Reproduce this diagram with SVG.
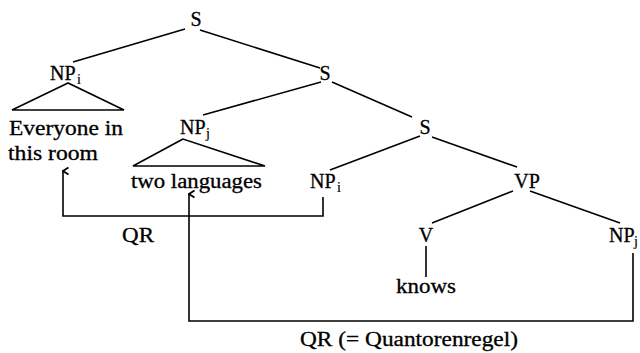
<svg xmlns="http://www.w3.org/2000/svg" width="640" height="353" viewBox="0 0 640 353">
<defs>
<style>
text{font-family:"Liberation Serif","Times New Roman",serif;font-size:20px;fill:#000;stroke:#000;stroke-width:0.3}
.sub{font-size:14px;stroke-width:0.2}
.m{text-anchor:middle}
.e{stroke:#000;stroke-width:1.6;fill:none}
.c{stroke:#000;stroke-width:1.6;fill:none;marker-end:url(#ah)}
</style>
<marker id="ah" markerWidth="10" markerHeight="10" refX="5" refY="1" orient="auto-start-reverse" markerUnits="userSpaceOnUse" viewBox="0 0 10 10">
<path d="M1.5,6.5 L5,1 L8.5,6.5" fill="none" stroke="#000" stroke-width="1.8"/>
</marker>
</defs>
<rect width="640" height="353" fill="#fff"/>
<g id="edges">
<line class="e" x1="185" y1="29" x2="73" y2="62"/>
<line class="e" x1="200" y1="30" x2="320" y2="68"/>
<line class="e" x1="321" y1="82" x2="203" y2="115"/>
<line class="e" x1="332" y1="82" x2="412" y2="117"/>
<line class="e" x1="420" y1="136" x2="330" y2="170"/>
<line class="e" x1="432" y1="137" x2="517" y2="167"/>
<line class="e" x1="513" y1="191" x2="432" y2="223"/>
<line class="e" x1="530" y1="191" x2="620" y2="223"/>
<line class="e" x1="426" y1="246" x2="426" y2="277"/>
</g>
<g id="S1"><text class="m" x="196" y="26">S</text></g>
<g id="NPi1"><text x="50" y="80">NP</text><text class="sub" x="77" y="84">i</text>
<polygon class="e" points="68,83 12,110 124,110"/>
<text x="9" y="135" textLength="114" lengthAdjust="spacingAndGlyphs">Everyone in</text>
<text x="8" y="160" textLength="90" lengthAdjust="spacingAndGlyphs">this room</text></g>
<g id="S2"><text class="m" x="325" y="80">S</text></g>
<g id="NPj1"><text x="180" y="134">NP</text><text class="sub" x="206" y="138">j</text>
<polygon class="e" points="183,139 133,166 265,166"/>
<text x="131" y="188" textLength="131" lengthAdjust="spacingAndGlyphs">two languages</text></g>
<g id="S3"><text class="m" x="425" y="134">S</text></g>
<g id="NPi2"><text x="310" y="188">NP</text><text class="sub" x="337" y="192">i</text></g>
<g id="VP"><text class="m" x="527" y="188">VP</text></g>
<g id="V"><text class="m" x="426" y="242">V</text></g>
<g id="knows"><text x="396" y="293" textLength="60" lengthAdjust="spacingAndGlyphs">knows</text></g>
<g id="NPj2"><text x="609" y="242">NP</text><text class="sub" x="634" y="246">j</text></g>
<g id="connectors">
<path class="c" d="M323,197 V216 H63 V171"/>
<path class="c" d="M633,253 V321 H189 V194"/>
<text x="122" y="242" textLength="32" lengthAdjust="spacingAndGlyphs">QR</text>
<text x="300" y="346" textLength="218" lengthAdjust="spacingAndGlyphs">QR (= Quantorenregel)</text>
</g>
</svg>
